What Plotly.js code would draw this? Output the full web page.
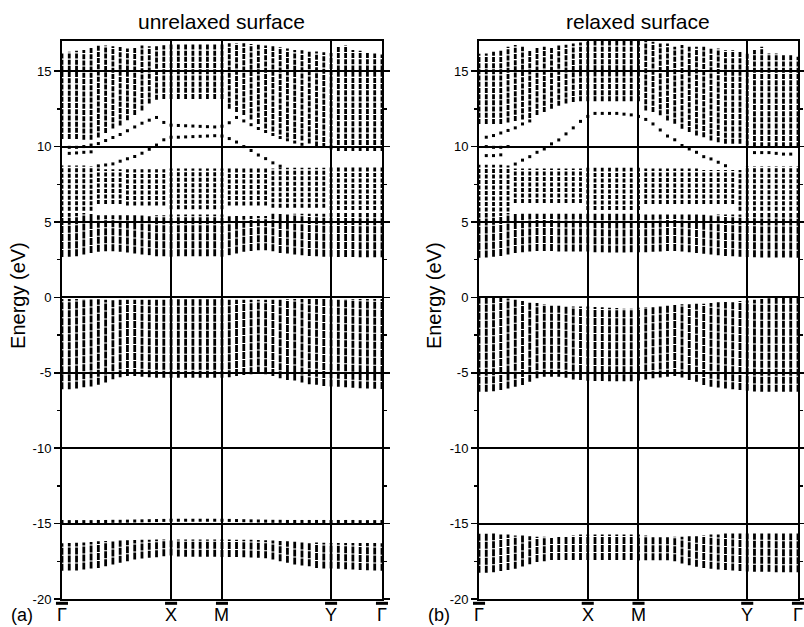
<!DOCTYPE html>
<html>
<head>
<meta charset="utf-8">
<script src="https://cdn.plot.ly/plotly-3.0.1.min.js"></script>
<style>html,body{margin:0;padding:0;background:#fff;}#chart{width:804px;height:627px;}</style>
</head>
<body>
<div id="chart"></div>
<script>
// k-point column index along the path Γ-X-M-Y-Γ
const kIdx = [0,1,2,3,4,5,6,7,8,9,10,11,12,13,14,15,16,17,18,19,20,21,22,23,24,25,26,27,28,29,30,31,32,33,34,35,36,37,38,39,40,41,42,43,44];
const kTickVals = [0,15,22,37,44];
const kTickText = ['Γ','X','M','Y','Γ'];
const eTickVals = [-20,-15,-10,-5,0,5,10,15];
const eTickText = ['-20','-15','-10','-5','0','5','10','15'];
const eMinorVals = [-17.5,-12.5,-7.5,-2.5,2.5,7.5,12.5];
const n = null;

// ---------- (a) unrelaxed surface ----------
const semTopA = [-16.30,-16.28,-16.27,-16.25,-16.22, -16.18,-16.16,-16.14,-16.12,-16.10, -16.09,-16.08,-16.07,-16.06,-16.06, -16.05,-16.06,-16.06,-16.06,-16.06, -16.06,-16.06,-16.06,-16.06,-16.07, -16.07,-16.08,-16.09,-16.10,-16.12, -16.15,-16.18,-16.20,-16.22,-16.24, -16.26,-16.27,-16.28,-16.28,-16.28, -16.28,-16.28,-16.29,-16.29,-16.30];
const semBotA = [-18.12,-18.11,-18.11,-18.05,-17.98, -17.94,-17.83,-17.72,-17.60,-17.49, -17.38,-17.32,-17.27,-17.23,-17.16, -17.12,-17.18,-17.20,-17.20,-17.20, -17.20,-17.20,-17.21,-17.22,-17.22, -17.23,-17.25,-17.27,-17.30,-17.38, -17.49,-17.60,-17.72,-17.78,-17.83, -17.94,-17.98,-17.98,-18.00,-18.03, -18.05,-18.08,-18.10,-18.11,-18.12];
const deepA = [-14.87,-14.87,-14.87,-14.87,-14.87, -14.86,-14.86,-14.85,-14.85,-14.84, -14.83,-14.82,-14.81,-14.80,-14.79, -14.78,-14.78,-14.78,-14.78,-14.78, -14.78,-14.78,-14.78,-14.79,-14.80, -14.81,-14.82,-14.83,-14.84,-14.85, -14.85,-14.86,-14.86,-14.86,-14.86, -14.86,-14.86,-14.86,-14.86,-14.86, -14.86,-14.87,-14.87,-14.87,-14.87];
const valTopA = [-0.10,-0.10,-0.10,-0.10,-0.10, -0.12,-0.15,-0.15,-0.15,-0.15, -0.15,-0.15,-0.15,-0.15,-0.15, -0.12,-0.12,-0.12,-0.12,-0.12, -0.12,-0.12,-0.12,-0.15,-0.15, -0.15,-0.15,-0.15,-0.15,-0.15, -0.15,-0.12,-0.10,-0.10,-0.10, -0.10,-0.10,-0.10,-0.10,-0.10, -0.10,-0.10,-0.10,-0.10,-0.10];
const valBotA = [-6.10,-6.09,-6.04,-5.96,-5.91, -5.80,-5.65,-5.43,-5.30,-5.22, -5.22,-5.26,-5.30,-5.33,-5.33, -5.33,-5.33,-5.33,-5.33,-5.33, -5.33,-5.33,-5.33,-5.30,-5.22, -5.15,-5.09,-5.04,-5.09,-5.22, -5.37,-5.48,-5.52,-5.65,-5.76, -5.80,-5.87,-5.91,-5.93,-5.96, -6.00,-6.02,-6.04,-6.06,-6.08];
const c1BotA = [2.68,2.69,2.73,2.84,2.95, 3.02,3.06,3.06,3.02,2.97, 2.91,2.84,2.80,2.73,2.73, 2.69,2.73,2.73,2.73,2.73, 2.73,2.73,2.69,2.80,2.91, 3.02,3.08,3.13,3.13,3.06, 2.95,2.91,2.84,2.80,2.75, 2.73,2.69,2.69,2.68,2.67, 2.67,2.66,2.66,2.66,2.66];
const c1TopA = [5.60,5.60,5.60,5.60,5.60, 5.45,5.45,5.45,5.45,5.45, 5.45,5.45,5.45,5.45,5.45, 5.50,5.50,5.50,5.50,5.50, 5.50,5.50,5.50,5.40,5.40, 5.40,5.40,5.40,5.40,5.55, 5.55,5.55,5.55,5.55,5.55, 5.55,5.55,5.60,5.60,5.60, 5.60,5.60,5.60,5.60,5.60];
const c2BotA = [5.75,5.75,5.75,5.75,5.75, 6.20,6.20,6.20,6.20,6.10, 6.10,6.10,6.10,6.10,6.10, 5.85,5.85,5.85,5.85,5.85, 5.85,5.85,5.85,6.10,6.10, 6.10,6.10,6.10,6.10,5.95, 5.95,5.95,5.95,5.95,5.95, 5.95,5.95,5.80,5.80,5.80, 5.80,5.80,5.80,5.80,5.80];
const c2TopA = [8.75,8.75,8.75,8.75,8.70, 8.55,8.50,8.50,8.50,8.50, 8.50,8.50,8.50,8.50,8.50, 8.55,8.55,8.55,8.55,8.55, 8.55,8.55,8.55,8.55,8.55, 8.55,8.55,8.55,8.55,8.55, 8.60,8.60,8.60,8.60,8.60, 8.60,8.60,8.70,8.70,8.70, 8.70,8.70,8.70,8.70,8.70];
const c3BotA = [10.50,10.50,10.50,10.45,10.45, 10.60,10.90,11.20,11.40,11.75, 12.10,12.40,12.85,13.10,13.15, 13.15,13.15,13.15,13.15,13.15, 13.15,13.15,13.15,12.50,12.30, 12.10,11.80,11.50,11.20,11.00, 10.80,10.60,10.50,10.40,10.20, 10.00,9.90,9.80,9.70,9.70, 9.70,9.70,9.70,9.70,9.70];
const c3TopA = [16.20,16.28,16.35,16.40,16.60, 16.70,16.70,16.65,16.60,16.50, 16.60,16.70,16.65,16.65,16.72, 16.80,16.80,16.80,16.82,16.82, 16.83,16.83,16.83,16.85,16.85, 16.85,16.80,16.75,16.70,16.65, 16.60,16.50,16.40,16.39,16.35, 16.30,16.25,16.20,16.60,16.72, 16.40,16.35,16.25,16.17,16.10];
const dLowA = [n,n,n,n,n, 8.72,8.78,8.85,9.03,9.19, 9.34,9.56,9.82,10.10,10.45, 10.62,10.62,10.64,10.66,10.68, 10.70,10.72,10.70,10.53,10.30, 10.00,9.74,9.44,9.20,8.92, 8.70,n,n,n,n, n,n,n,n,n, n,n,n,n,n];
const dUpA = [n,9.95,9.95,10.00,10.10, 10.20,10.40,10.60,10.80,11.05, 11.30,11.55,11.75,11.93,11.60, 11.42,11.40,11.38,11.36,11.34, 11.32,11.30,11.35,11.58,11.93, 11.70,11.45,11.20,11.00,10.80, 10.60,10.45,10.30,10.15,n, n,n,n,n,n, n,n,n,n,n];
const dGA = [n,9.55,9.58,9.62,9.65, n,n,n,n,n, n,n,n,n,n, n,n,n,n,n, n,n,n,n,n, n,n,n,n,n, n,n,n,n,n, n,n,n,n,n, n,n,n,n,n];

// ---------- (b) relaxed surface ----------
const semTopB = [-15.66,-15.66,-15.66,-15.73,-15.73, -15.79,-15.79,-15.84,-15.88,-15.88, -15.95,-15.88,-15.84,-15.79,-15.73, -15.73,-15.73,-15.73,-15.73,-15.73, -15.73,-15.73,-15.73,-15.79,-15.84, -15.88,-15.88,-15.88,-15.88,-15.84, -15.84,-15.79,-15.73,-15.73,-15.66, -15.66,-15.66,-15.66,-15.66,-15.66, -15.66,-15.66,-15.66,-15.66,-15.66];
const semBotB = [-18.26,-18.26,-18.22,-18.15,-18.08, -18.00,-17.85,-17.70,-17.55,-17.49, -17.42,-17.42,-17.42,-17.42,-17.42, -17.42,-17.42,-17.42,-17.42,-17.42, -17.42,-17.42,-17.45,-17.43,-17.43, -17.43,-17.43,-17.49,-17.64,-17.77, -17.86,-17.95,-18.00,-18.04,-18.08, -18.11,-18.15,-18.17,-18.19,-18.20, -18.20,-18.22,-18.22,-18.22,-18.22];
const valTopB = [0.05,0.07,0.02,-0.02,-0.08, -0.15,-0.24,-0.30,-0.37,-0.46, -0.50,-0.55,-0.60,-0.60,-0.60, -0.60,-0.64,-0.66,-0.68,-0.70, -0.75,-0.75,-0.68,-0.64,-0.64, -0.60,-0.53,-0.50,-0.46,-0.46, -0.42,-0.42,-0.37,-0.33,-0.30, -0.28,-0.24,-0.20,-0.15,-0.10, -0.06,-0.02,0.02,0.05,0.05];
const valBotB = [-6.26,-6.26,-6.22,-6.15,-6.04, -5.92,-5.81,-5.59,-5.37,-5.26, -5.26,-5.26,-5.33,-5.44,-5.48, -5.53,-5.55,-5.55,-5.57,-5.57, -5.57,-5.57,-5.53,-5.44,-5.37, -5.31,-5.26,-5.22,-5.31,-5.48, -5.59,-5.81,-5.92,-5.97,-6.04, -6.10,-6.15,-6.20,-6.24,-6.26, -6.26,-6.26,-6.26,-6.26,-6.26];
const c1BotB = [2.62,2.65,2.70,2.75,2.85, 2.95,3.00,3.05,3.08,3.08, 3.08,3.05,3.05,3.05,3.05, 3.05,3.00,3.00,2.98,2.98, 2.98,3.00,3.00,3.00,3.02, 3.05,3.08,3.08,3.05,3.00, 2.95,2.90,2.85,2.80,2.75, 2.72,2.70,2.68,2.66,2.65, 2.65,2.65,2.64,2.64,2.62];
const c1TopB = [5.60,5.60,5.60,5.60,5.60, 5.55,5.55,5.55,5.55,5.55, 5.55,5.55,5.55,5.55,5.55, 5.55,5.55,5.55,5.55,5.55, 5.55,5.55,5.55,5.50,5.50, 5.50,5.50,5.50,5.50,5.50, 5.50,5.50,5.50,5.50,5.50, 5.50,5.50,5.60,5.60,5.60, 5.60,5.60,5.60,5.60,5.60];
const c2BotB = [5.70,5.70,5.70,5.70,5.70, 6.25,6.25,6.25,6.25,6.25, 6.25,6.25,6.25,6.25,6.25, 5.80,5.80,5.80,5.80,5.80, 5.80,5.80,5.80,6.20,6.20, 6.20,6.20,6.20,6.20,6.20, 6.20,6.20,6.20,6.20,6.20, 6.20,5.75,5.75,5.75,5.75, 5.75,5.75,5.75,5.75,5.75];
const c2TopB = [8.80,8.80,8.80,8.80,8.75, 8.55,8.55,8.55,8.55,8.55, 8.55,8.55,8.55,8.55,8.55, 8.60,8.60,8.60,8.60,8.60, 8.60,8.60,8.60,8.55,8.55, 8.55,8.55,8.55,8.55,8.55, 8.55,8.45,8.45,8.45,8.45, 8.45,8.45,8.70,8.70,8.70, 8.70,8.70,8.70,8.70,8.70];
const c3BotB = [11.50,11.50,11.50,11.50,11.60, 11.70,11.80,11.90,12.10,12.30, 12.50,12.70,12.85,12.95,13.00, 13.00,13.00,13.00,13.00,13.00, 13.00,13.00,13.00,12.40,12.30, 12.07,11.73,11.51,11.18,10.96, 10.73,10.62,10.40,10.29,10.18, 10.18,10.18,10.07,9.96,9.96, 9.96,9.96,9.96,9.96,9.96];
const c3TopB = [16.15,16.18,16.29,16.40,16.62, 16.73,16.62,16.40,16.62,16.62, 16.62,16.70,16.75,16.84,16.90, 16.95,17.00,17.00,17.00,17.00, 17.00,17.00,17.00,17.00,16.95, 16.84,16.84,16.62,16.73,16.62, 16.62,16.62,16.51,16.51,16.40, 16.40,16.29,16.18,16.40,16.62, 16.18,16.18,16.07,16.07,15.95];
const dLowB = [n,n,n,n,n, 8.84,9.10,9.33,9.62,9.84, 10.18,10.44,10.84,11.24,11.67, 12.00,12.20,12.20,12.20,12.20, 12.15,12.10,12.00,11.80,11.50, 11.10,10.70,10.45,10.07,9.84, 9.62,9.33,9.18,8.96,8.73, n,n,n,n,n, n,n,n,n,n];
const dUpB = [n,10.62,10.73,10.90,11.07, 11.24,11.50,11.70,n,n, n,n,n,n,n, n,n,n,n,n, n,n,n,n,n, n,n,n,n,n, n,n,n,n,n, n,n,n,n,n, n,n,n,n,n];
const dG1B = [n,10.00,9.95,9.95,10.00, n,n,n,n,n, n,n,n,n,n, n,n,n,n,n, n,n,n,n,n, n,n,n,n,n, n,n,n,n,n, n,n,n,n,n, n,n,n,n,n];
const dG2B = [n,9.40,9.40,9.45,n, n,n,n,n,n, n,n,n,n,n, n,n,n,n,n, n,n,n,n,n, n,n,n,n,n, n,n,n,n,n, n,n,n,9.60,9.60, 9.60,9.55,9.50,9.50,n];

// ---------- drawing helpers ----------
function segTrace(lo, hi, xa, ya, width, dash) {
  const x = [], y = [];
  kIdx.forEach((k, i) => {
    if (lo[i] == null || hi[i] == null) return;
    x.push(k, k, null); y.push(lo[i], hi[i], null);
  });
  return {type:'scatter', mode:'lines', x:x, y:y, xaxis:xa, yaxis:ya,
    line:{color:'#000', width:width, dash:dash}, hoverinfo:'skip', showlegend:false};
}
function dotTrace(vals, xa, ya) {
  return {type:'scatter', mode:'markers', x:kIdx, y:vals, xaxis:xa, yaxis:ya,
    marker:{symbol:'square', size:3, color:'#000'}, hoverinfo:'skip', showlegend:false};
}
function panel(d, xa, ya) {
  return [
    segTrace(d.semBot, d.semTop, xa, ya, 2.8, '7px,1px'),
    segTrace(d.valBot, d.valTop, xa, ya, 2.8, '7px,1px'),
    segTrace(d.c1Bot, d.c1Top, xa, ya, 2.8, '7px,1px'),
    segTrace(d.c2Bot, d.c2Top, xa, ya, 2.8, '4px,1.5px'),
    segTrace(d.c3Bot, d.c3Top, xa, ya, 2.8, '5px,1.2px')
  ].concat(d.dots.map(v => dotTrace(v, xa, ya)));
}

const data = [].concat(
  panel({semTop:semTopA, semBot:semBotA, valTop:valTopA, valBot:valBotA, c1Bot:c1BotA, c1Top:c1TopA,
         c2Bot:c2BotA, c2Top:c2TopA, c3Bot:c3BotA, c3Top:c3TopA, dots:[deepA, dLowA, dUpA, dGA]}, 'x', 'y'),
  panel({semTop:semTopB, semBot:semBotB, valTop:valTopB, valBot:valBotB, c1Bot:c1BotB, c1Top:c1TopB,
         c2Bot:c2BotB, c2Top:c2TopB, c3Bot:c3BotB, c3Top:c3TopB, dots:[dLowB, dUpB, dG1B, dG2B]}, 'x2', 'y2')
);

const FONT = 'Arial, "Liberation Sans", Helvetica, sans-serif';
const domA = [0.0771, 0.4751], domB = [0.5958, 0.9925], domY = [0.0447, 0.9346];

function xAxis(dom, anchor) {
  return {domain:dom, anchor:anchor, range:[0,44], tickvals:kTickVals, showticklabels:false,
    showgrid:true, gridcolor:'#000', gridwidth:2, zeroline:false,
    showline:true, mirror:true, linecolor:'#000', linewidth:2, ticks:'', fixedrange:true};
}
function yAxis(anchor) {
  return {domain:domY, anchor:anchor, range:[-20,17], tickvals:eTickVals, ticktext:eTickText,
    ticks:'outside', ticklen:6, tickwidth:1.5, tickcolor:'#000',
    minor:{tickvals:eMinorVals, ticks:'outside', ticklen:3, tickwidth:1.5, tickcolor:'#000', showgrid:false},
    showgrid:true, gridcolor:'#000', gridwidth:2, zeroline:false,
    showline:true, mirror:'ticks', linecolor:'#000', linewidth:2,
    tickfont:{size:13, family:FONT, color:'#000'}, fixedrange:true};
}

// k-point labels (Γ X M Y Γ) with overlines, placed from the tick values
const shapes = [];
const annotations = [];
[domA, domB].forEach(dom => {
  kTickVals.forEach((tv, j) => {
    const xp = dom[0] + (tv / 44) * (dom[1] - dom[0]);
    shapes.push({type:'line', xref:'paper', yref:'paper', x0:xp - 0.0075, x1:xp + 0.0075,
      y0:0.0378, y1:0.0378, line:{color:'#000', width:3}});
    annotations.push({text:kTickText[j], xref:'paper', yref:'paper', x:xp, y:0.0185,
      xanchor:'center', yanchor:'middle', borderpad:0, showarrow:false, font:{size:18, family:FONT, color:'#000'}});
  });
});

annotations.push(
  {text:'unrelaxed surface', xref:'paper', yref:'paper', x:(domA[0]+domA[1])/2, y:0.966, xanchor:'center', yanchor:'middle', showarrow:false, font:{size:21, family:FONT}},
  {text:'relaxed surface', xref:'paper', yref:'paper', x:(domB[0]+domB[1])/2, y:0.966, xanchor:'center', yanchor:'middle', showarrow:false, font:{size:21, family:FONT}},
  {text:'Energy (eV)', xref:'paper', yref:'paper', x:0.0224, y:0.528, xanchor:'center', yanchor:'middle', textangle:-90, showarrow:false, font:{size:20, family:FONT}},
  {text:'Energy (eV)', xref:'paper', yref:'paper', x:0.540, y:0.528, xanchor:'center', yanchor:'middle', textangle:-90, showarrow:false, font:{size:20, family:FONT}},
  {text:'(a)', xref:'paper', yref:'paper', x:0.027, y:0.0185, xanchor:'center', yanchor:'middle', borderpad:0, showarrow:false, font:{size:18, family:FONT}},
  {text:'(b)', xref:'paper', yref:'paper', x:0.5466, y:0.0185, xanchor:'center', yanchor:'middle', borderpad:0, showarrow:false, font:{size:18, family:FONT}}
);

const layout = {
  width:804, height:627, margin:{l:0, r:0, t:0, b:0},
  paper_bgcolor:'#fff', plot_bgcolor:'#fff', showlegend:false,
  font:{family:FONT, color:'#000'},
  xaxis:xAxis(domA, 'y'), xaxis2:xAxis(domB, 'y2'),
  yaxis:yAxis('x'), yaxis2:yAxis('x2'),
  shapes:shapes, annotations:annotations
};

Plotly.newPlot('chart', data, layout, {staticPlot:true, displayModeBar:false});
</script>
</body>
</html>
